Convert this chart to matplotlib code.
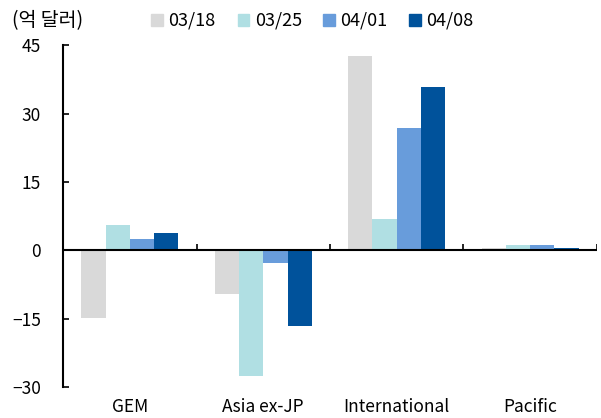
import numpy as np
import matplotlib.pyplot as plt
from matplotlib.patches import Patch

plt.rcParams['font.family'] = ['Noto Sans CJK KR', 'DejaVu Sans']

categories = ['GEM', 'Asia ex-JP', 'International', 'Pacific']
series = ['03/18', '03/25', '04/01', '04/08']
v_0318 = [-14.8, -9.5, 42.6, 0.5]
v_0325 = [5.5, -27.5, 6.8, 1.2]
v_0401 = [2.5, -2.7, 26.8, 1.2]
v_0408 = [3.9, -16.5, 35.9, 0.4]
colors = ['#D9D9D9', '#B0DFE3', '#689CDB', '#00529B']

fig = plt.figure(figsize=(6.01, 4.18), dpi=100)
ax = fig.add_axes([0.105, 0.074, 0.888, 0.818])

x = np.arange(len(categories))
w = 0.182
for i, vals in enumerate([v_0318, v_0325, v_0401, v_0408]):
    ax.bar(x + (i - 1.5) * w, vals, w, color=colors[i], label=series[i])

# 0 기준선 + 구분 눈금
ax.axhline(0, color='black', lw=1.5)
ax.vlines(x + 0.5, 0, 1.4, color='black', lw=1.2)

ax.set_xlim(-0.5, 3.5)
ax.set_ylim(-30, 45)
ax.set_yticks(np.arange(-30, 46, 15))
ax.set_xticks(x)
ax.set_xticklabels(categories, fontsize=12.5)
ax.tick_params(axis='x', length=0, pad=8)
ax.tick_params(axis='y', direction='in', length=4, width=1.2, labelsize=12.5, pad=16)

for s in ['top', 'right', 'bottom']:
    ax.spines[s].set_visible(False)
ax.spines['left'].set_linewidth(1.5)

fig.text(0.02, 0.95, '(억 달러)', fontsize=14, va='center')
handles = [Patch(color=c) for c in colors]
fig.legend(handles, series, loc='center left', bbox_to_anchor=(0.252, 0.95), ncol=4,
           frameon=False, fontsize=13, handlelength=0.65, handleheight=0.65,
           handletextpad=0.3, columnspacing=1.2, borderpad=0, borderaxespad=0)

fig.savefig('out.png', dpi=100)
